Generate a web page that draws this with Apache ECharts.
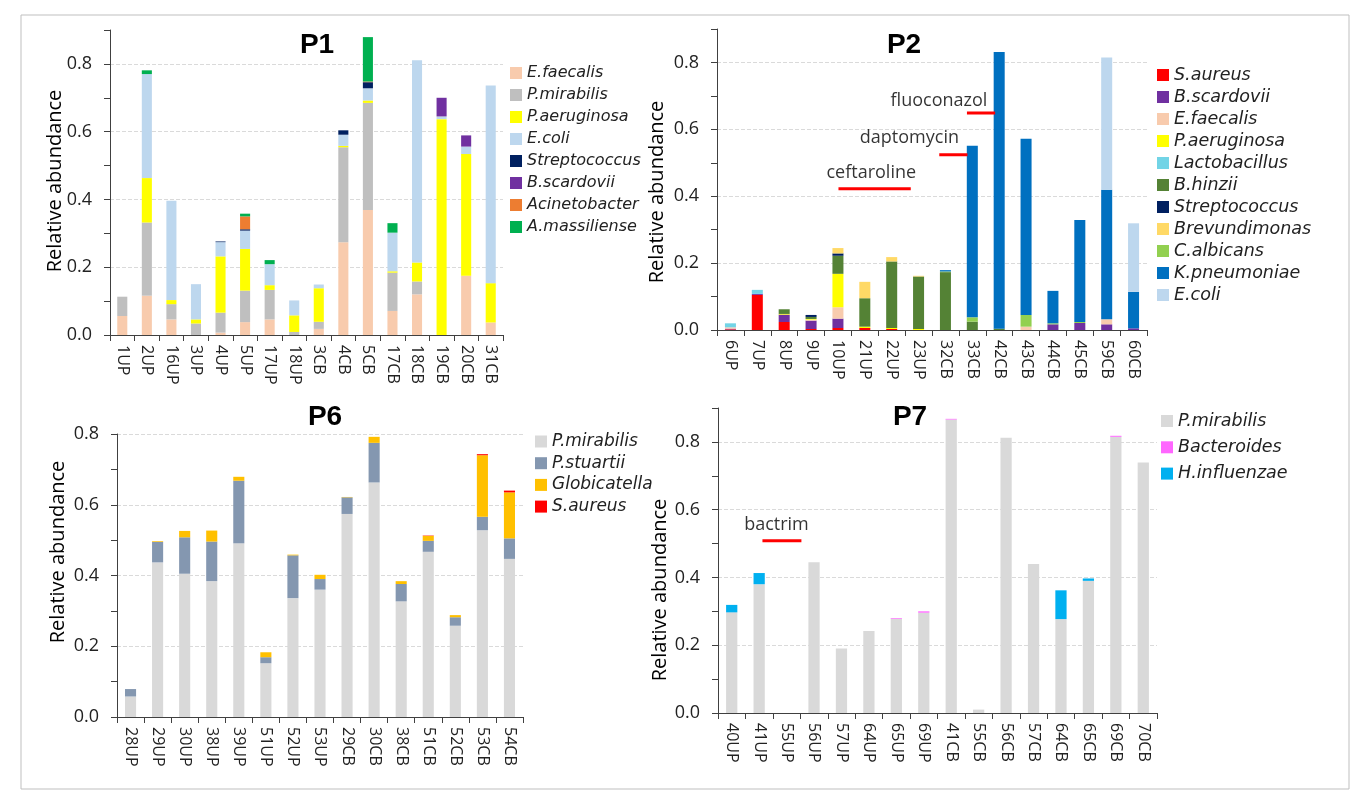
<!DOCTYPE html>
<html><head><meta charset="utf-8">
<script src="https://cdn.jsdelivr.net/npm/echarts@6/dist/echarts.min.js"></script>
<style>html,body{margin:0;padding:0;background:#fff}#c{width:1360px;height:802px}</style>
</head><body><div id="c"></div>
<script>
// ---------- P1 ----------
const p1Categories = ['1UP','2UP','16UP','3UP','4UP','5UP','17UP','18UP','3CB','4CB','5CB','17CB','18CB','19CB','20CB','31CB'];
const p1_Efaecalis    = [0.056,0.116,0.046,0,0.007,0.038,0.046,0,0.018,0.274,0.369,0.071,0.120,0,0.175,0.037];
const p1_Pmirabilis   = [0.057,0.216,0.045,0.034,0.059,0.093,0.087,0.009,0.021,0.280,0.316,0.113,0.038,0,0,0];
const p1_Paeruginosa  = [0,0.131,0.012,0.012,0.166,0.123,0.014,0.049,0.099,0.004,0.007,0.004,0.056,0.637,0.359,0.116];
const p1_Ecoli        = [0,0.307,0.293,0.104,0.042,0.054,0.062,0.044,0.011,0.033,0.036,0.114,0.597,0.008,0.022,0.583];
const p1_Streptococcus= [0,0,0,0,0.002,0.004,0,0,0,0.013,0.018,0,0,0,0,0];
const p1_Bscardovii   = [0,0,0,0,0,0,0,0,0,0,0,0,0,0.055,0.033,0];
const p1_Acinetobacter= [0,0,0,0,0,0.038,0,0,0,0,0.002,0,0,0,0,0];
const p1_Amassiliense = [0,0.011,0,0,0,0.008,0.012,0,0,0,0.131,0.028,0,0,0,0];

// ---------- P2 ----------
const p2Categories = ['6UP','7UP','8UP','9UP','10UP','21UP','22UP','23UP','32CB','33CB','42CB','43CB','44CB','45CB','59CB','60CB'];
const p2_Saureus      = [0.002,0.105,0.024,0.003,0.006,0.006,0.003,0,0,0,0,0,0,0,0,0];
const p2_Bscardovii   = [0.002,0.003,0.022,0.025,0.028,0,0,0,0,0,0,0,0.017,0.021,0.017,0.005];
const p2_Efaecalis    = [0.004,0,0,0.003,0.034,0,0,0,0,0,0,0.010,0,0,0.015,0];
const p2_Paeruginosa  = [0,0,0.002,0.002,0.100,0.004,0.003,0.003,0,0,0,0,0,0,0,0];
const p2_Lactobacillus= [0.012,0.012,0,0,0,0,0,0,0,0,0,0,0,0,0,0];
const p2_Bhinzii      = [0,0,0.014,0.006,0.054,0.085,0.199,0.157,0.173,0.025,0.004,0,0,0,0,0];
const p2_Streptococcus= [0,0,0,0.006,0.007,0,0,0,0,0,0,0,0,0,0,0];
const p2_Brevundimonas= [0,0,0,0,0.016,0.049,0.013,0.002,0,0,0,0,0,0,0,0];
const p2_Calbicans    = [0,0,0,0,0,0,0,0,0.002,0.013,0,0.035,0.003,0.003,0,0];
const p2_Kpneumoniae  = [0,0,0,0,0,0,0,0,0.004,0.513,0.827,0.527,0.097,0.305,0.387,0.109];
const p2_Ecoli        = [0,0,0,0,0,0,0,0,0,0,0,0,0,0,0.396,0.205];

// ---------- P6 ----------
const p6Categories = ['28UP','29UP','30UP','38UP','39UP','51UP','52UP','53UP','29CB','30CB','38CB','51CB','52CB','53CB','54CB'];
const p6_Pmirabilis   = [0.058,0.437,0.405,0.384,0.491,0.152,0.336,0.360,0.574,0.663,0.327,0.467,0.258,0.528,0.447];
const p6_Pstuartii    = [0.021,0.058,0.103,0.112,0.177,0.017,0.121,0.030,0.047,0.112,0.049,0.031,0.024,0.038,0.058];
const p6_Globicatella = [0,0.002,0.018,0.031,0.011,0.014,0.002,0.012,0.001,0.017,0.008,0.014,0.006,0.174,0.130];
const p6_Saureus      = [0,0,0,0,0,0,0,0,0,0,0,0.001,0,0.003,0.005];

// ---------- P7 ----------
const p7Categories = ['40UP','41UP','55UP','56UP','57UP','64UP','65UP','69UP','41CB','55CB','56CB','57CB','64CB','65CB','69CB','70CB'];
const p7_Pmirabilis   = [0.297,0.380,0,0.445,0.190,0.242,0.278,0.296,0.866,0.010,0.812,0.440,0.277,0.390,0.815,0.739];
const p7_Bacteroides  = [0,0,0,0,0,0,0.002,0.004,0.002,0,0,0,0,0,0.003,0];
const p7_Hinfluenzae  = [0.022,0.033,0,0,0,0,0,0,0,0,0,0,0.085,0.007,0,0];

// ---------- annotations (x in category units, y in abundance) ----------
const p2AnnotLines = [
  {y:0.422, x1:4.52, x2:7.21},
  {y:0.524, x1:8.27, x2:9.32},
  {y:0.649, x1:9.30, x2:10.35}
];
const p2AnnotTexts = [[5.74,0.469,'ceftaroline'],[7.16,0.574,'daptomycin'],[8.26,0.684,'fluoconazol']];
const p7AnnotLines = [{y:0.508, x1:1.62, x2:3.04}];
const p7AnnotTexts = [[2.13,0.554,'bactrim']];

const yTicks = [0.0,0.2,0.4,0.6,0.8];

const FONT = '"Open Sans","Noto Sans",sans-serif';
const LFONT = '"DejaVu Sans",Verdana,sans-serif';
const AX = '#404040';

const panels = [
  {id:'P1', cats:p1Categories, max:0.9, grid:{left:110, top:30, width:393, height:305},
   legend:{left:510, top:65, gap:6, fs:16},
   series:[['E.faecalis',p1_Efaecalis,'#F8CBAD'],['P.mirabilis',p1_Pmirabilis,'#BFBFBF'],['P.aeruginosa',p1_Paeruginosa,'#FFFF00'],
           ['E.coli',p1_Ecoli,'#BDD7EE'],['Streptococcus',p1_Streptococcus,'#002060'],['B.scardovii',p1_Bscardovii,'#7030A0'],
           ['Acinetobacter',p1_Acinetobacter,'#ED7D31'],['A.massiliense',p1_Amassiliense,'#00B050']]},
  {id:'P2', cats:p2Categories, max:0.9, grid:{left:717, top:29, width:430, height:301},
   legend:{left:1157, top:66, gap:4, fs:17.5},
   series:[['S.aureus',p2_Saureus,'#FF0000'],['B.scardovii',p2_Bscardovii,'#7030A0'],['E.faecalis',p2_Efaecalis,'#F8CBAD'],
           ['P.aeruginosa',p2_Paeruginosa,'#FFFF00'],['Lactobacillus',p2_Lactobacillus,'#72D4E6'],['B.hinzii',p2_Bhinzii,'#548235'],
           ['Streptococcus',p2_Streptococcus,'#002060'],['Brevundimonas',p2_Brevundimonas,'#FFD966'],['C.albicans',p2_Calbicans,'#92D050'],
           ['K.pneumoniae',p2_Kpneumoniae,'#0070C0'],['E.coli',p2_Ecoli,'#BDD7EE']]},
  {id:'P6', cats:p6Categories, max:0.8, grid:{left:117, top:434, width:406, height:283},
   legend:{left:535, top:433, gap:4.7, fs:17},
   series:[['P.mirabilis',p6_Pmirabilis,'#D9D9D9'],['P.stuartii',p6_Pstuartii,'#8497B0'],['Globicatella',p6_Globicatella,'#FFC000'],['S.aureus',p6_Saureus,'#FF0000']]},
  {id:'P7', cats:p7Categories, max:0.9, grid:{left:718, top:408, width:439, height:305},
   legend:{left:1161, top:412, gap:8.3, fs:17.5},
   series:[['P.mirabilis',p7_Pmirabilis,'#D9D9D9'],['Bacteroides',p7_Bacteroides,'#FF66FF'],['H.influenzae',p7_Hinfluenzae,'#00B0F0']]}
];

const grid=[], xAxis=[], yAxis=[], series=[], legend=[];
panels.forEach((p,i)=>{
  grid.push(Object.assign({containLabel:false}, p.grid));
  xAxis.push({type:'category', gridIndex:i, data:p.cats,
    axisLine:{lineStyle:{color:AX,width:1}},
    axisTick:{show:true,length:6,lineStyle:{color:AX}},
    axisLabel:{rotate:-90, fontSize:16, margin:10, color:'#222', fontFamily:FONT, interval:0},
    splitLine:{show:false}});
});
panels.forEach((p,i)=>{
  xAxis.push({type:'value', gridIndex:i, min:0, max:p.cats.length, show:false});
});
panels.forEach((p,i)=>{
  yAxis.push({type:'value', gridIndex:i, min:0, max:p.max, interval:0.1,
    axisLine:{show:true,lineStyle:{color:AX,width:1}},
    axisTick:{show:true,length:6,lineStyle:{color:AX}},
    axisLabel:{fontSize:18, margin:18, color:'#222', fontFamily:FONT,
      formatter:v=>{const k=Math.round(v*10); return (k%2===0 && yTicks.some(t=>Math.abs(t-v)<1e-6)) ? v.toFixed(1) : '';}},
    splitLine:{show:true, lineStyle:{type:'dashed', width:1, color:['#DADADA','rgba(0,0,0,0)']}}});
  p.series.forEach(s=>{
    series.push({type:'bar', name:p.id+'|'+s[0], xAxisIndex:i, yAxisIndex:i, stack:'st'+i,
      barWidth:'41%', data:s[1], itemStyle:{color:s[2]}, silent:true});
  });
  legend.push({orient:'vertical', left:p.legend.left, top:p.legend.top, padding:0,
    itemWidth:12, itemHeight:12, itemGap:p.legend.gap, icon:'rect',
    data:p.series.map(s=>p.id+'|'+s[0]), selectedMode:false,
    formatter:n=>n.split('|')[1],
    textStyle:{fontSize:p.legend.fs, fontStyle:'italic', color:'#222', fontFamily:LFONT}});
});

function addAnnot(gi, lines, texts){
  lines.forEach(l=>{
    series.push({type:'line', xAxisIndex:4+gi, yAxisIndex:gi, data:[[l.x1,l.y],[l.x2,l.y]],
      symbol:'none', silent:true, lineStyle:{color:'#FF0000', width:3}, z:5});
  });
  series.push({type:'scatter', xAxisIndex:4+gi, yAxisIndex:gi, data:texts, symbolSize:1, silent:true,
    itemStyle:{color:'rgba(0,0,0,0)'}, z:5,
    label:{show:true, position:'inside', formatter:pp=>pp.value[2], fontSize:18, color:'#000', fontFamily:FONT}});
}
addAnnot(1, p2AnnotLines, p2AnnotTexts);
addAnnot(3, p7AnnotLines, p7AnnotTexts);

const titles = [['P1',317,45],['P2',904,45],['P6',325,417],['P7',910,417]];
const ynames = [[55,181],[657,192],[58,552],[660,590]];
const graphic = [{type:'rect', shape:{x:21,y:15,width:1328,height:774}, style:{fill:'none', stroke:'#BFBFBF', lineWidth:1}, silent:true}];
titles.forEach(t=>graphic.push({type:'text', x:t[1], y:t[2], silent:true,
  style:{text:t[0], font:'bold 28px "Liberation Sans", Arial, sans-serif', fill:'#000', align:'center', verticalAlign:'middle', textAlign:'center', textVerticalAlign:'middle'}}));
ynames.forEach(t=>graphic.push({type:'text', x:t[0], y:t[1], rotation:Math.PI/2, silent:true,
  style:{text:'Relative abundance', font:'20px "Open Sans", sans-serif', fill:'#000', align:'center', verticalAlign:'middle', textAlign:'center', textVerticalAlign:'middle'}}));

const chart = echarts.init(document.getElementById('c'));
chart.setOption({animation:false, backgroundColor:'#fff', grid, xAxis, yAxis, series, legend, graphic});
</script></body></html>
